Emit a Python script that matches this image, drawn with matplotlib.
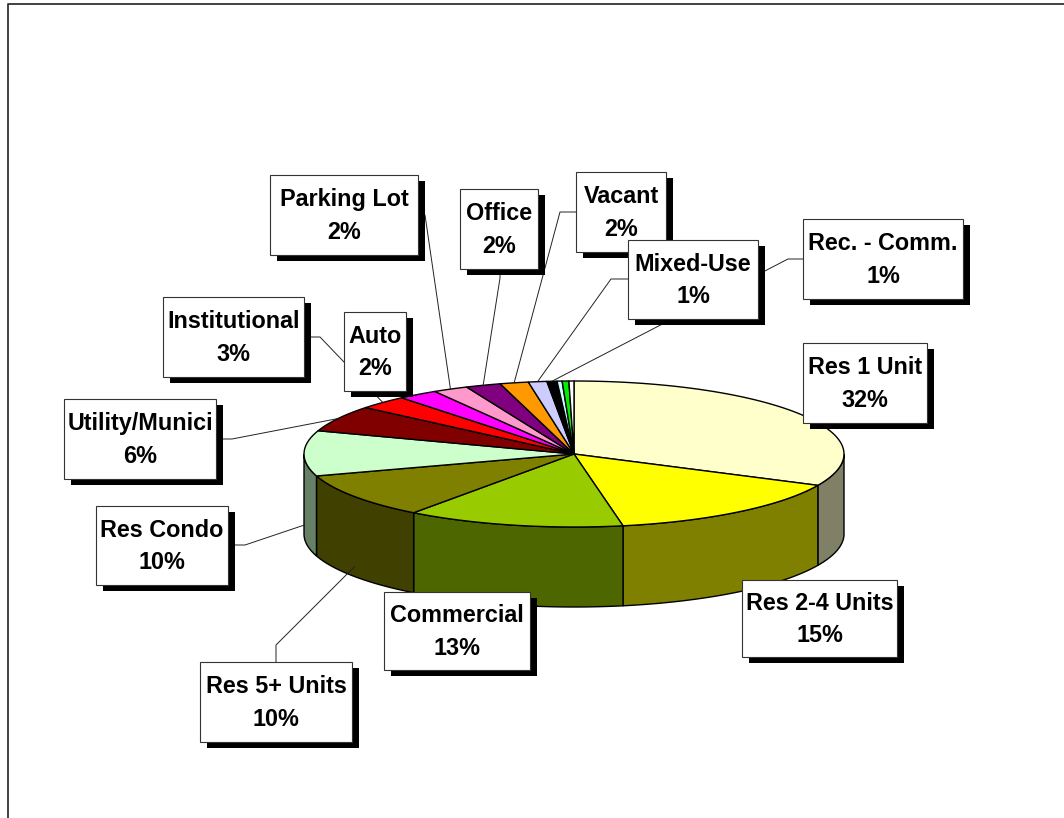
import numpy as np
import matplotlib
matplotlib.use('Agg')
import matplotlib.pyplot as plt
from matplotlib.patches import Polygon, Rectangle

# land use shares, clockwise from 12 o'clock
categories = ['Res 1 Unit', 'Res 2-4 Units', 'Commercial', 'Res 5+ Units', 'Res Condo',
              'Utility/Munici', 'Institutional', 'Auto', 'Parking Lot', 'Office',
              'Vacant', 'Mixed-Use', 'Rec. - Comm.', '', '', '']
shares = [32.0, 15.0, 13.0, 10.0, 10.0, 5.8, 3.0, 2.4, 2.1, 2.1, 1.7, 1.1, 0.6, 0.3, 0.4, 0.3]
colors = ['#FFFFCC', '#FFFF00', '#99CC00', '#808000', '#CCFFCC',
          '#800000', '#FF0000', '#FF00FF', '#FF99CC', '#800080',
          '#FF9900', '#CCCCFF', '#000000', '#CCFFFF', '#00EE00', '#FFFFFF']

# label boxes (x0, y0, x1, y1) and leader elbows (box point, bend point), in pixels
label_boxes = {
    'Res 1 Unit': (803, 343, 927, 423),
    'Res 2-4 Units': (742, 580, 897, 657),
    'Commercial': (384, 592, 530, 670),
    'Res 5+ Units': (200, 662, 352, 742),
    'Res Condo': (96, 506, 228, 585),
    'Utility/Munici': (64, 399, 216, 479),
    'Institutional': (163, 297, 304, 377),
    'Auto': (344, 312, 406, 391),
    'Parking Lot': (270, 175, 418, 255),
    'Office': (460, 189, 538, 269),
    'Vacant': (576, 172, 666, 252),
    'Mixed-Use': (628, 240, 758, 319),
    'Rec. - Comm.': (803, 219, 963, 299),
}
leaders = {
    'Res 5+ Units': ((276, 662), (276, 645)),
    'Res Condo': ((228, 545), (245, 545)),
    'Utility/Munici': ((216, 439), (232, 439)),
    'Institutional': ((304, 337), (320, 337)),
    'Parking Lot': ((418, 215), (425, 215)),
    'Office': ((500, 269), (500, 278)),
    'Vacant': ((576, 212), (560, 212)),
    'Mixed-Use': ((628, 279), (611, 279)),
    'Rec. - Comm.': ((803, 259), (788, 259)),
}

W, H = 1064, 818
cx, cy = 574, 454      # centre of the top face
rx, ry = 270, 73       # ellipse radii of the top face
depth = 80             # thickness of the pie

fig = plt.figure(figsize=(W / 100, H / 100), dpi=100)
ax = fig.add_axes([0, 0, 1, 1])
ax.set_xlim(0, W)
ax.set_ylim(H, 0)
ax.axis('off')


def rim(t, dz=0.0):
    return np.column_stack([cx + rx * np.sin(t), cy - ry * np.cos(t) + dz])


def shade(c):
    r, g, b, _ = matplotlib.colors.to_rgba(c)
    return (r * 0.5, g * 0.5, b * 0.5)


total = sum(shares)
fracs = np.array(shares) / total
edges = np.concatenate([[0], np.cumsum(fracs)]) * 2 * np.pi

# side walls (only the front half is visible)
for i, c in enumerate(colors):
    a, b = max(edges[i], np.pi / 2), min(edges[i + 1], 3 * np.pi / 2)
    if b <= a:
        continue
    t = np.linspace(a, b, 80)
    pts = np.vstack([rim(t), rim(t[::-1], depth)])
    ax.add_patch(Polygon(pts, closed=True, facecolor=shade(c), edgecolor='black',
                         lw=1.0, zorder=2))

# top face wedges
for i, c in enumerate(colors):
    t = np.linspace(edges[i], edges[i + 1], max(4, int(200 * fracs[i])))
    pts = np.vstack([[cx, cy], rim(t)])
    ax.add_patch(Polygon(pts, closed=True, facecolor=c, edgecolor='black',
                         lw=1.0, joinstyle='round', zorder=3))

# labels with drop shadows and leader lines
for i, name in enumerate(categories):
    if not name:
        continue
    x0, y0, x1, y1 = label_boxes[name]
    ax.add_patch(Rectangle((x0 + 7, y0 + 6), x1 - x0, y1 - y0, facecolor='black',
                           edgecolor='none', zorder=5))
    ax.add_patch(Rectangle((x0, y0), x1 - x0, y1 - y0, facecolor='white',
                           edgecolor='#333333', lw=0.8, zorder=6))
    pct = round(fracs[i] * 100)
    ax.text((x0 + x1) / 2, (y0 + y1) / 2 + 1, f'{name}\n{pct}%', ha='center', va='center',
            fontsize=16.8, fontweight='bold', family='Liberation Sans',
            linespacing=1.55, zorder=7)

    if name in leaders:
        mid = (edges[i] + edges[i + 1]) / 2
        # slices sitting on the left/right edge still point at their side wall
        if np.pi / 2 - 0.15 <= mid <= 3 * np.pi / 2 + 0.15:
            mid = np.clip(mid, np.pi / 2 + 0.01, 3 * np.pi / 2 - 0.01)
            anchor = rim(np.array([mid]), depth * 0.88)[0]
        else:
            anchor = rim(np.array([mid]))[0]
        (sx, sy), (ex, ey) = leaders[name]
        ax.plot([sx, ex, anchor[0]], [sy, ey, anchor[1]], color='#222222', lw=0.7, zorder=4)

# outer frame (left and top edges)
ax.plot([8, 8, W], [H, 4, 4], color='#333333', lw=1.3, zorder=8)

fig.savefig('out.png', dpi=100)
